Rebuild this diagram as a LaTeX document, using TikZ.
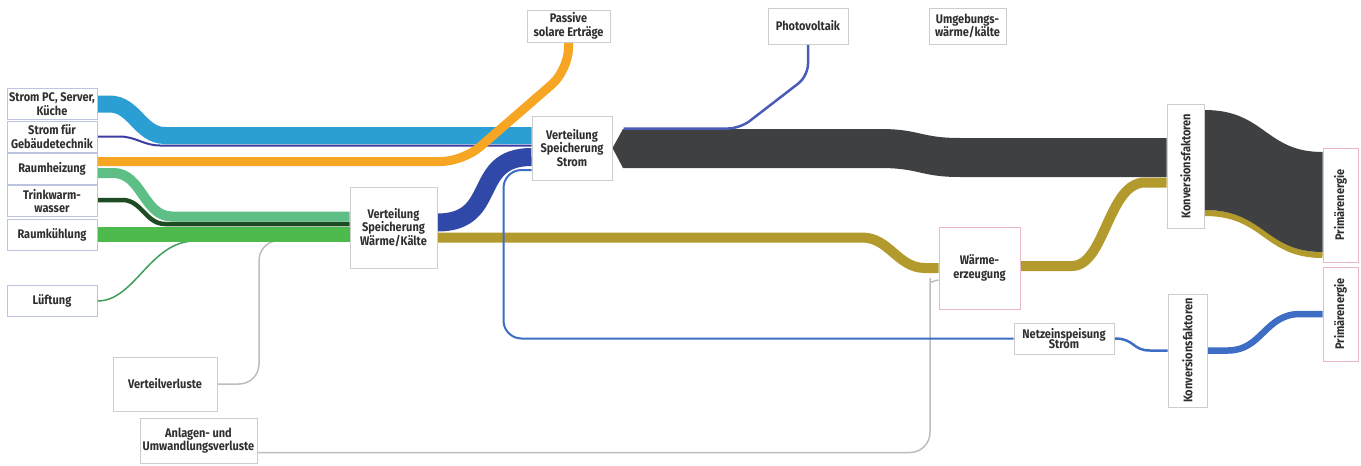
\documentclass[tikz,border=0pt]{standalone}
\usepackage{fontspec}
\usepackage{graphicx}
\usetikzlibrary{calc}
\newfontfamily\lblfont{Fira Sans}[FakeStretch=0.88]
\newcommand\lbl{\lblfont\bfseries\fontsize{12.5}{13.5}\selectfont}
\pgfdeclarelayer{background}
\pgfsetlayers{background,main}

\definecolor{stromblau}{HTML}{2B9FD3}
\definecolor{gtblau}{HTML}{3B3DA0}
\definecolor{solarorange}{HTML}{F6A623}
\definecolor{heizgruen}{HTML}{5DBE86}
\definecolor{wwgruen}{HTML}{1D4B22}
\definecolor{kuehlgruen}{HTML}{4DBA4E}
\definecolor{luftgruen}{HTML}{3F9F58}
\definecolor{stromband}{HTML}{3048A8}
\definecolor{waermeoliv}{HTML}{B39A2C}
\definecolor{primgrau}{HTML}{3E4042}
\definecolor{pvblau}{HTML}{4A5CB8}
\definecolor{netzblau}{HTML}{3D6DC5}
\definecolor{verlustgrau}{HTML}{BDBDBD}
\definecolor{randgrau}{HTML}{CDCDCD}
\definecolor{randblau}{HTML}{BCC4E2}
\definecolor{randrosa}{HTML}{E9B7C6}
\definecolor{textgrau}{HTML}{2F2F2F}

\tikzset{
    box/.style = {draw=randgrau, fill=white, line width=1pt, align=center,
        inner sep=1pt, text=textgrau, font=\lbl},
    lbox/.style = {box, draw=randblau, minimum width=90pt, minimum height=31pt},
    pbox/.style = {box, draw=randrosa},
    band/.style = {line cap=butt},
    verlust/.style = {draw=verlustgrau, line width=1.5pt},
}

\begin{document}
\begin{tikzpicture}[x=1pt, y=-1pt]
\useasboundingbox (0,0) rectangle (1361,466);

% Verbraucher links
\node[lbox] (spc) at (52,104) {Strom PC, Server,\\Küche};
\node[lbox] (sgt) at (52,136.5) {Strom für\\Gebäudetechnik};
\node[lbox] (rh) at (52,168.5) {Raumheizung};
\node[lbox] (tww) at (52,201) {Trinkwarm-\\wasser};
\node[lbox] (rk) at (52,235) {Raumkühlung};
\node[lbox] (lue) at (52,301) {Lüftung};

\node[box, minimum width=104pt, minimum height=54pt] (vv) at (165,384) {Verteilverluste};
\node[box, minimum width=117pt, minimum height=45pt] (auv) at (198.5,440.5) {Anlagen- und\\Umwandlungsverluste};

\node[box, minimum width=87pt, minimum height=81pt] (wk) at (393.5,227.5) {Verteilung\\Speicherung\\Wärme/Kälte};
\node[box, minimum width=80pt, minimum height=64pt] (vs) at (572,148) {Verteilung\\Speicherung\\Strom};

% Quellen oben
\node[box, minimum width=83pt, minimum height=32pt] (pse) at (568.5,26) {Passive\\solare Erträge};
\node[box, minimum width=80pt, minimum height=36pt] (pv) at (808,26) {Photovoltaik};
\node[box, minimum width=77pt, minimum height=36pt] (uwk) at (967.5,26) {Umgebungs-\\wärme/kälte};

\node[pbox, minimum width=81pt, minimum height=82pt] (we) at (979.5,268) {Wärme-\\erzeugung};
\node[box, minimum width=100pt, minimum height=31pt] (nes) at (1064,338.5) {Netzeinspeisung\\[-3pt]Strom};

% rechts
\node[box, minimum width=37pt, minimum height=124pt] (kf1) at (1185.5,166) {\rotatebox{90}{Konversionsfaktoren}};
\node[box, minimum width=39pt, minimum height=113pt] (kf2) at (1187.5,350.5) {\rotatebox{90}{Konversionsfaktoren}};
\node[pbox, minimum width=35pt, minimum height=114pt] (pe1) at (1340.5,205) {\rotatebox{90}{Primärenergie}};
\node[pbox, minimum width=35pt, minimum height=94pt] (pe2) at (1340.5,314) {\rotatebox{90}{Primärenergie}};

\begin{pgfonlayer}{background}
\fill[white] (0,0) rectangle (1361,466);

\draw[verlust, rounded corners=20] (vv.east) -- (259,384) -- (259,240.5) -- ($(wk.west)+(0,13)$);
\draw[verlust, rounded corners=20] ($(auv.east)+(0,12)$) -- (930,452.5) -- (930,298)
    .. controls (930,286) and (933,280) .. ($(we.west)+(0,12)$);
\draw[luftgruen, line width=1.5pt] (lue.east) .. controls (135,301) and (150,241) .. (195,241)
    -- ($(wk.west)+(0,13.5)$);

\draw[band, stromblau, line width=17pt] (spc.east) -- ++(12,0) to[out=0,in=180] (165,135.5)
    -- ($(vs.west)+(0,-12.5)$);
\draw[gtblau, line width=2pt] (sgt.east) -- ++(22,0) to[out=0,in=180] (160,145.5)
    -- ($(vs.west)+(0,-2.5)$);
\draw[band, solarorange, line width=9pt, rounded corners=22] ($(rh.east)+(0,-7)$) -- (463,161.5)
    -- (568.5,70) -- (pse.south);

\draw[band, heizgruen, line width=10pt] ($(rh.east)+(0,4.5)$) -- ++(16,0) to[out=0,in=180] (172,216.5)
    -- ($(wk.west)+(0,-11)$);
\draw[band, wwgruen, line width=4.5pt] ($(tww.east)+(0,-1)$) -- ++(25,0) to[out=0,in=180] (165,224)
    -- ($(wk.west)+(0,-3.5)$);
\draw[band, kuehlgruen, line width=15pt] ($(rk.east)+(0,-1)$) -- ($(wk.west)+(0,6.5)$);

\draw[band, waermeoliv, line width=10pt] ($(wk.east)+(0,10)$) -- (862,237.5) to[out=0,in=180] (925,268)
    -- (we.west);
\draw[band, waermeoliv, line width=10pt] ($(we.east)+(0,-2)$) -- (1072,266)
    .. controls (1105,266) and (1108,182.5) .. (1145,182.5) -- ($(kf1.west)+(0,16.5)$);
\draw[band, waermeoliv, line width=6pt] ($(kf1.east)+(0,47)$) .. controls (1265,213) and (1265,255)
    .. ($(pe1.west)+(0,50)$);

\draw[netzblau, line width=2pt, rounded corners=18] ($(vs.west)+(0,22)$) -- (503.5,170)
    -- (503.5,338.5) -- (nes.west);
\draw[band, stromband, line width=18pt] ($(wk.east)+(0,-5)$) .. controls (500,222.5) and (470,157)
    .. ($(vs.west)+(0,9)$);

\fill[primgrau] (vs.east) -- (623,129) -- (880,129) .. controls (920,129) and (920,138) .. (960,138)
    -- ($(kf1.west)+(0,-28)$) -- ($(kf1.west)+(0,11)$) -- (960,177)
    .. controls (920,177) and (920,168) .. (880,168) -- (623,168) -- cycle;
\fill[primgrau] ($(kf1.east)+(0,-56)$) .. controls (1265,110) and (1265,152) .. ($(pe1.west)+(0,-53)$)
    -- ($(pe1.west)+(0,47)$) .. controls (1265,252) and (1265,210) .. ($(kf1.east)+(0,44)$) -- cycle;
\draw[pvblau, line width=2.5pt, rounded corners=12] (pv.south) -- (808,76) -- (740,128.5)
    -- ($(vs.east)+(11,-19.5)$);

\draw[netzblau, line width=2.5pt] (nes.east) .. controls (1135,338.5) and (1132,350.5) .. (1150,350.5)
    -- (kf2.west);
\draw[band, netzblau, line width=6.5pt] (kf2.east) -- (1228,350.5) .. controls (1262,350.5) and (1265,314)
    .. (1300,314) -- (pe2.west);
\end{pgfonlayer}
\end{tikzpicture}
\end{document}
